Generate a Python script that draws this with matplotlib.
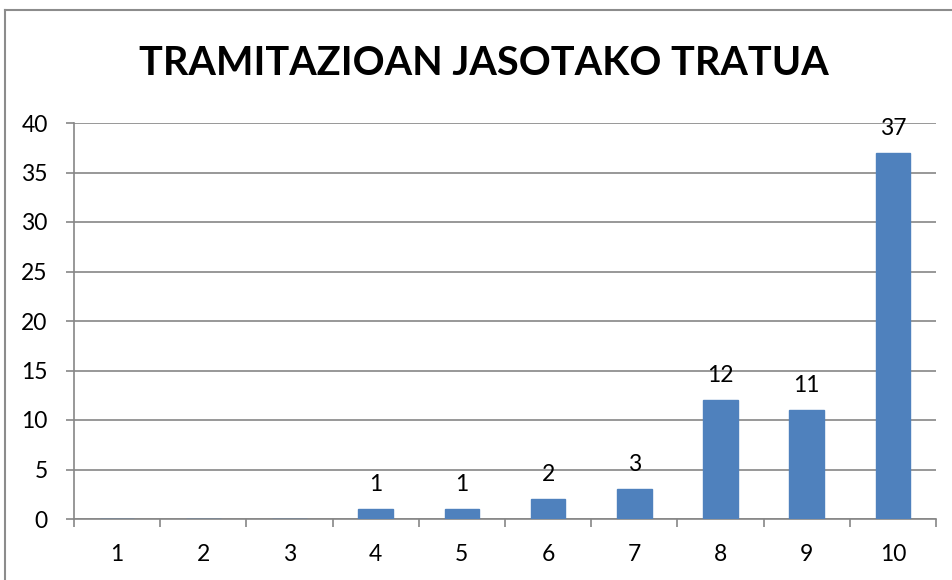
import numpy as np
import matplotlib.pyplot as plt
from matplotlib.lines import Line2D

categories = ['1', '2', '3', '4', '5', '6', '7', '8', '9', '10']
counts = [0, 0, 0, 1, 1, 2, 3, 12, 11, 37]
y_ticks = [0, 5, 10, 15, 20, 25, 30, 35, 40]
title = 'TRAMITAZIOAN JASOTAKO TRATUA'

plt.rcParams['font.family'] = ['Lato', 'DejaVu Sans']

fig = plt.figure(figsize=(9.53, 5.8), dpi=100)
ax = fig.add_axes([74 / 953, 1 - 519 / 580, (936 - 74) / 953, (519 - 123) / 580])

x = np.arange(1, len(categories) + 1)
ax.bar(x, counts, width=0.4, color='#4f81bd', edgecolor='#4f81bd', zorder=3)

for xi, v in zip(x, counts):
    if v > 0:
        ax.annotate(str(v), (xi, v), xytext=(0, 10), textcoords='offset points',
                    ha='center', va='bottom', fontsize=16.5, color='black')

ax.set_xlim(0.5, len(categories) + 0.5)
ax.set_ylim(0, 40)
ax.set_yticks(y_ticks)
ax.set_xticks(x)
ax.set_xticklabels(categories)
ax.set_xticks(np.arange(0.5, len(categories) + 1), minor=True)
ax.tick_params(axis='x', which='major', length=0, pad=18, labelsize=16.5)
ax.tick_params(axis='x', which='minor', length=6, width=1.2, color='#868686', direction='out')
ax.tick_params(axis='y', length=6, width=1.2, color='#868686', pad=13, labelsize=16.5)

ax.yaxis.grid(True, color='#868686', linewidth=1.2, zorder=0)
for s in ['top', 'right']:
    ax.spines[s].set_visible(False)
for s in ['left', 'bottom']:
    ax.spines[s].set_color('#868686')
    ax.spines[s].set_linewidth(1.2)

fig.text(484 / 953, 1 - 75 / 580, title, ha='center', va='baseline',
         fontsize=28.5, fontweight='bold')

# chart frame: only left and top edges fall inside the picture
fy = 1 - 10 / 580
fx = 5 / 953
fig.lines.append(Line2D([fx, fx], [0, fy], transform=fig.transFigure,
                        color='#8c8c8c', linewidth=1.5))
fig.lines.append(Line2D([fx, 1], [fy, fy], transform=fig.transFigure,
                        color='#8c8c8c', linewidth=1.5))

fig.savefig('out.png', dpi=100)
